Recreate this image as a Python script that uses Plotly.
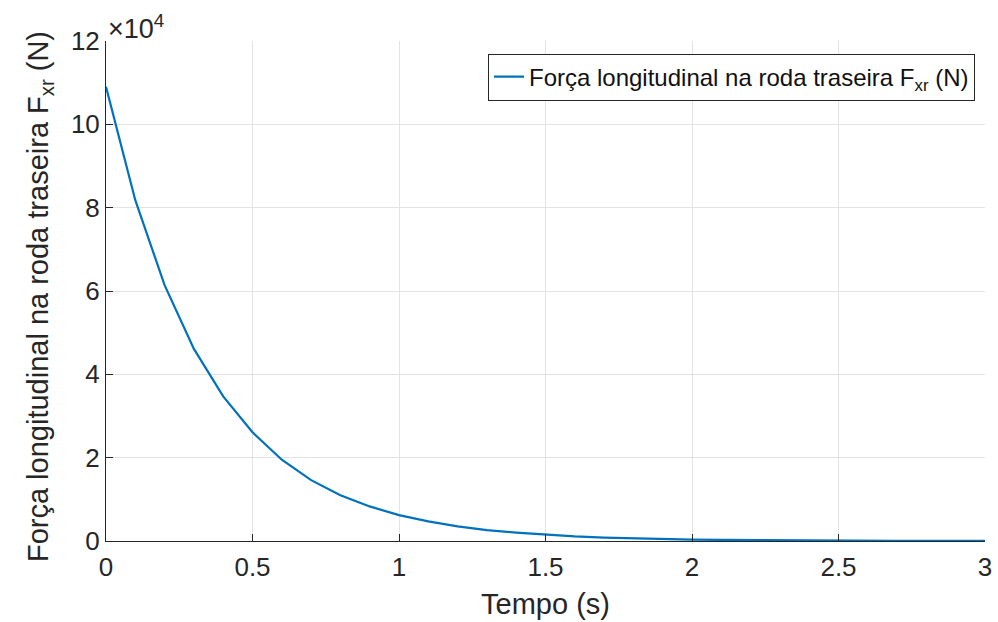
import plotly.graph_objects as go

# Time samples (s) and rear-wheel longitudinal force (N)
tempo = [0.0, 0.1, 0.2, 0.3, 0.4, 0.5, 0.6, 0.7, 0.8, 0.9,
         1.0, 1.1, 1.2, 1.3, 1.4, 1.5, 1.6, 1.7, 1.8, 1.9,
         2.0, 2.1, 2.2, 2.3, 2.4, 2.5, 2.6, 2.7, 2.8, 2.9, 3.0]
forca_fxr = [109000, 81800, 61400, 46100, 34700, 26100, 19500, 14600, 11000, 8300,
             6200, 4700, 3500, 2600, 2000, 1500, 1100, 830, 620, 470,
             350, 260, 200, 150, 110, 80, 60, 50, 35, 26, 20]

escala = 1e4
x_ticks = [0, 0.5, 1, 1.5, 2, 2.5, 3]
y_ticks = [0, 2, 4, 6, 8, 10, 12]

FONT = "Liberation Sans, Arial, sans-serif"
AXIS_COLOR = "#262626"
GRID_COLOR = "#e3e3e3"
LINE_COLOR = "#0072bd"

fig = go.Figure()
fig.add_trace(go.Scatter(
    x=tempo,
    y=[v / escala for v in forca_fxr],
    mode="lines",
    line=dict(color=LINE_COLOR, width=2.2),
    name="Força longitudinal na roda traseira F<sub>xr</sub> (N)",
))

fig.update_layout(
    width=998, height=622,
    margin=dict(l=106, r=13, t=41, b=81),
    paper_bgcolor="white",
    plot_bgcolor="white",
    font=dict(family=FONT, color=AXIS_COLOR),
    showlegend=True,
    legend=dict(
        x=0.9886, y=0.975, xanchor="right", yanchor="top",
        bordercolor=AXIS_COLOR, borderwidth=1, bgcolor="white",
        font=dict(size=24, family=FONT, color="#111111"),
        itemwidth=30, tracegroupgap=0,
    ),
    xaxis=dict(
        range=[0, 3], tickvals=x_ticks, ticktext=[f"{t:g}" for t in x_ticks],
        automargin=False,
        showgrid=True, gridcolor=GRID_COLOR, gridwidth=1,
        showline=True, linecolor=AXIS_COLOR, linewidth=1,
        ticks="inside", ticklen=7, tickcolor=AXIS_COLOR,
        tickfont=dict(size=26, family=FONT, color=AXIS_COLOR),
        ticklabelstandoff=3,
        zeroline=False,
        title=dict(text="Tempo (s)", font=dict(size=29, family=FONT, color=AXIS_COLOR), standoff=12),
    ),
    yaxis=dict(
        range=[0, 12], tickvals=y_ticks, ticktext=[str(t) for t in y_ticks],
        automargin=False,
        showgrid=True, gridcolor=GRID_COLOR, gridwidth=1,
        showline=True, linecolor=AXIS_COLOR, linewidth=1,
        ticks="inside", ticklen=7, tickcolor=AXIS_COLOR,
        tickfont=dict(size=26, family=FONT, color=AXIS_COLOR),
        zeroline=False,
    ),
    annotations=[
        dict(
            text="Força longitudinal na roda traseira F<sub>xr</sub> (N)",
            textangle=-90, xref="paper", yref="paper",
            x=-0.075, y=0.488, xanchor="center", yanchor="middle",
            showarrow=False, font=dict(size=29, family=FONT, color=AXIS_COLOR),
        ),
        dict(
            text="×10<sup>4</sup>", xref="paper", yref="paper",
            x=0.0, y=1.0, xanchor="left", yanchor="bottom", yshift=-5,
            showarrow=False, font=dict(size=27, family=FONT, color=AXIS_COLOR),
        ),
    ],
)

fig.write_html("out.html")
